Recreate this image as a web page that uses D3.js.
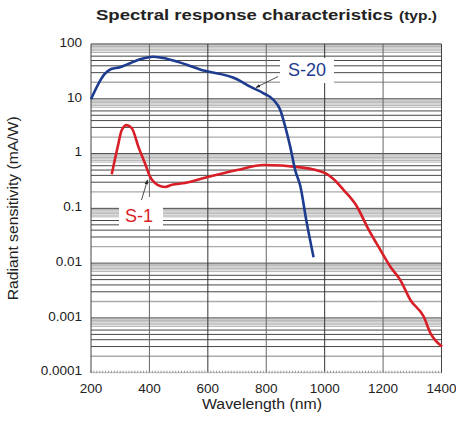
<!DOCTYPE html>
<html>
<head>
<meta charset="utf-8">
<script src="https://cdn.jsdelivr.net/npm/d3@7"></script>
<style>
  body { margin: 0; background: #fff; }
  svg { font-family: "Liberation Sans", Arial, sans-serif; }
</style>
</head>
<body>
<div id="chart"></div>
<script>
// wavelength (nm) / radiant sensitivity (mA/W)
const s20Wave = [200, 247, 269, 299, 334, 368, 414, 459, 528, 571, 700, 745, 791, 825, 848, 865, 882, 899, 917, 937, 962];
const s20Sens = [9.8, 28.4, 35, 37.6, 44.6, 52.6, 58.6, 53.9, 41.9, 34.5, 22.7, 16.6, 12.6, 9.5, 6.25, 3.1, 1.34, 0.5, 0.25, 0.061, 0.0128];

const s1Wave = [271, 294, 305, 322, 340, 362, 385, 402, 419, 454, 477, 522, 580, 700, 791, 917, 1002, 1031, 1065, 1111, 1145, 1191, 1225, 1259, 1294, 1339, 1362, 1379, 1402];
const s1Sens = [0.42, 1.53, 2.67, 3.3, 2.9, 1.34, 0.66, 0.38, 0.29, 0.245, 0.27, 0.29, 0.35, 0.5, 0.62, 0.56, 0.44, 0.34, 0.216, 0.107, 0.0465, 0.0173, 0.0086, 0.0049, 0.0021, 0.00106, 0.00053, 0.00039, 0.0003];

const xTicks = [200, 400, 600, 800, 1000, 1200, 1400];
const yTicks = [0.0001, 0.001, 0.01, 0.1, 1, 10, 100];
const yTickLabels = ['0.0001', '0.001', '0.01', '0.1', '1', '10', '100'];

const W = 456, H = 423;
const margin = {t:44, r:14.5, b:50.3, l:91};
const innerWidth = W - margin.l - margin.r;
const innerHeight = H - margin.t - margin.b;

const scaleX = d3.scaleLinear().domain([200, 1400]).range([0, innerWidth]);
const scaleY = d3.scaleLog().domain([0.0001, 100]).range([innerHeight, 0]);

const svg = d3.select('#chart').append('svg')
	.attr('width', W)
	.attr('height', H);

// the source lettering is wide, so stretch glyphs to the measured widths
svg.append('text')
	.attr('x', 96).attr('y', 20)
	.attr('textLength', 297).attr('lengthAdjust', 'spacingAndGlyphs')
	.style('font-weight', 'bold').style('font-size', '15px').style('fill', '#222')
	.text('Spectral response characteristics');
svg.append('text')
	.attr('x', 399).attr('y', 20)
	.attr('textLength', 38).attr('lengthAdjust', 'spacingAndGlyphs')
	.style('font-weight', 'bold').style('font-size', '12.5px').style('fill', '#222')
	.text('(typ.)');

const plot = svg.append('g')
	.attr('transform', `translate(${margin.l}, ${margin.t})`);

// horizontal log paper grid
const dark = [1, 3, 4, 5, 6];
const light = [2, 7, 7.5, 8, 8.5, 9, 9.5];
const gridH = plot.append('g').attr('class', 'grid-h');
yTicks.slice(0, -1).forEach(d => {
	light.forEach(k => {
		gridH.append('line')
			.attr('x1', 0).attr('x2', innerWidth)
			.attr('y1', scaleY(d * k)).attr('y2', scaleY(d * k))
			.style('stroke', k === 2 ? '#aaa' : '#9a9a9a')
			.style('stroke-width', k === 2 ? 1.4 : 0.75);
	});
	dark.forEach(k => {
		if (d === 0.0001 && k === 1) return;
		gridH.append('line')
			.attr('x1', 0).attr('x2', innerWidth)
			.attr('y1', scaleY(d * k)).attr('y2', scaleY(d * k))
			.style('stroke', '#333')
			.style('stroke-width', 0.9);
	});
});
gridH.append('line')
	.attr('x1', 0).attr('x2', innerWidth)
	.attr('y1', scaleY(100)).attr('y2', scaleY(100))
	.style('stroke', '#333');

// vertical grid
plot.append('g').selectAll('line')
	.data(xTicks.slice(1, -1))
	.join('line')
	.attr('x1', d => scaleX(d)).attr('x2', d => scaleX(d))
	.attr('y1', 0).attr('y2', innerHeight)
	.style('stroke', (d, i) => i % 2 === 0 ? '#666' : '#333')
	.style('stroke-width', 1);

// bottom edge with 10 nm minor ticks
plot.append('line')
	.attr('x1', 0).attr('x2', innerWidth)
	.attr('y1', innerHeight).attr('y2', innerHeight)
	.style('stroke', '#bbb');
plot.append('g').selectAll('line')
	.data(d3.range(200, 1401, 10))
	.join('line')
	.attr('x1', d => scaleX(d)).attr('x2', d => scaleX(d))
	.attr('y1', innerHeight).attr('y2', innerHeight - 2)
	.style('stroke', '#777').style('stroke-width', 0.8);

// side borders
plot.append('g').selectAll('line')
	.data([200, 1400])
	.join('line')
	.attr('x1', d => scaleX(d)).attr('x2', d => scaleX(d))
	.attr('y1', 0).attr('y2', innerHeight)
	.style('stroke', '#444');

// label boxes mask the grid
plot.append('rect').attr('x', 189).attr('y', 14).attr('width', 54).attr('height', 25).style('fill', '#fff');
plot.append('rect').attr('x', 28).attr('y', 153).attr('width', 44).attr('height', 29).style('fill', '#fff');

const lineGenerator = d3.line()
	.x(d => scaleX(d[0]))
	.y(d => scaleY(d[1]))
	.curve(d3.curveMonotoneX);

plot.append('path')
	.datum(d3.zip(s1Wave, s1Sens))
	.attr('d', lineGenerator)
	.style('fill', 'none').style('stroke', '#d81e26').style('stroke-width', 2.6);

plot.append('path')
	.datum(d3.zip(s20Wave, s20Sens))
	.attr('d', lineGenerator)
	.style('fill', 'none').style('stroke', '#1d3b8f').style('stroke-width', 2.6);

// series labels with pointer arrows
svg.append('defs').append('marker')
	.attr('id', 'arr').attr('viewBox', '0 0 10 10')
	.attr('refX', 9).attr('refY', 5)
	.attr('markerWidth', 6).attr('markerHeight', 6)
	.attr('orient', 'auto')
	.append('path').attr('d', 'M0,1.5L10,5L0,8.5Z').style('fill', '#222');

plot.append('line')
	.attr('x1', 187).attr('y1', 32.5).attr('x2', 165).attr('y2', 43.5)
	.style('stroke', '#222').style('stroke-width', 0.8).attr('marker-end', 'url(#arr)');
plot.append('text')
	.attr('x', 216).attr('y', 32).attr('text-anchor', 'middle')
	.style('font-size', '18px').style('fill', '#1d3b8f')
	.text('S-20');

plot.append('line')
	.attr('x1', 50.5).attr('y1', 156).attr('x2', 56.5).attr('y2', 136)
	.style('stroke', '#222').style('stroke-width', 0.8).attr('marker-end', 'url(#arr)');
plot.append('text')
	.attr('x', 48).attr('y', 178).attr('text-anchor', 'middle')
	.style('font-size', '18px').style('fill', '#d81e26')
	.text('S-1');

// tick labels
plot.append('g').selectAll('text')
	.data(yTicks)
	.join('text')
	.attr('x', -9).attr('y', d => scaleY(d) - 2)
	.attr('dy', '0.35em').attr('text-anchor', 'end')
	.style('font-size', '13.5px').style('fill', '#222')
	.text((d, i) => yTickLabels[i]);

plot.append('g').selectAll('text')
	.data(xTicks)
	.join('text')
	.attr('x', d => scaleX(d)).attr('y', innerHeight + 20.5)
	.attr('text-anchor', 'middle')
	.style('font-size', '13.5px').style('fill', '#222')
	.text(d => d);

svg.append('text')
	.attr('x', 202).attr('y', 409)
	.attr('textLength', 120).attr('lengthAdjust', 'spacingAndGlyphs')
	.style('font-size', '14px').style('fill', '#222')
	.text('Wavelength (nm)');

svg.append('text')
	.attr('transform', `translate(18, ${margin.t + innerHeight / 2}) rotate(-90)`)
	.attr('x', -92)
	.attr('textLength', 184).attr('lengthAdjust', 'spacingAndGlyphs')
	.style('font-size', '14px').style('fill', '#222')
	.text('Radiant sensitivity (mA/W)');
</script>
</body>
</html>
